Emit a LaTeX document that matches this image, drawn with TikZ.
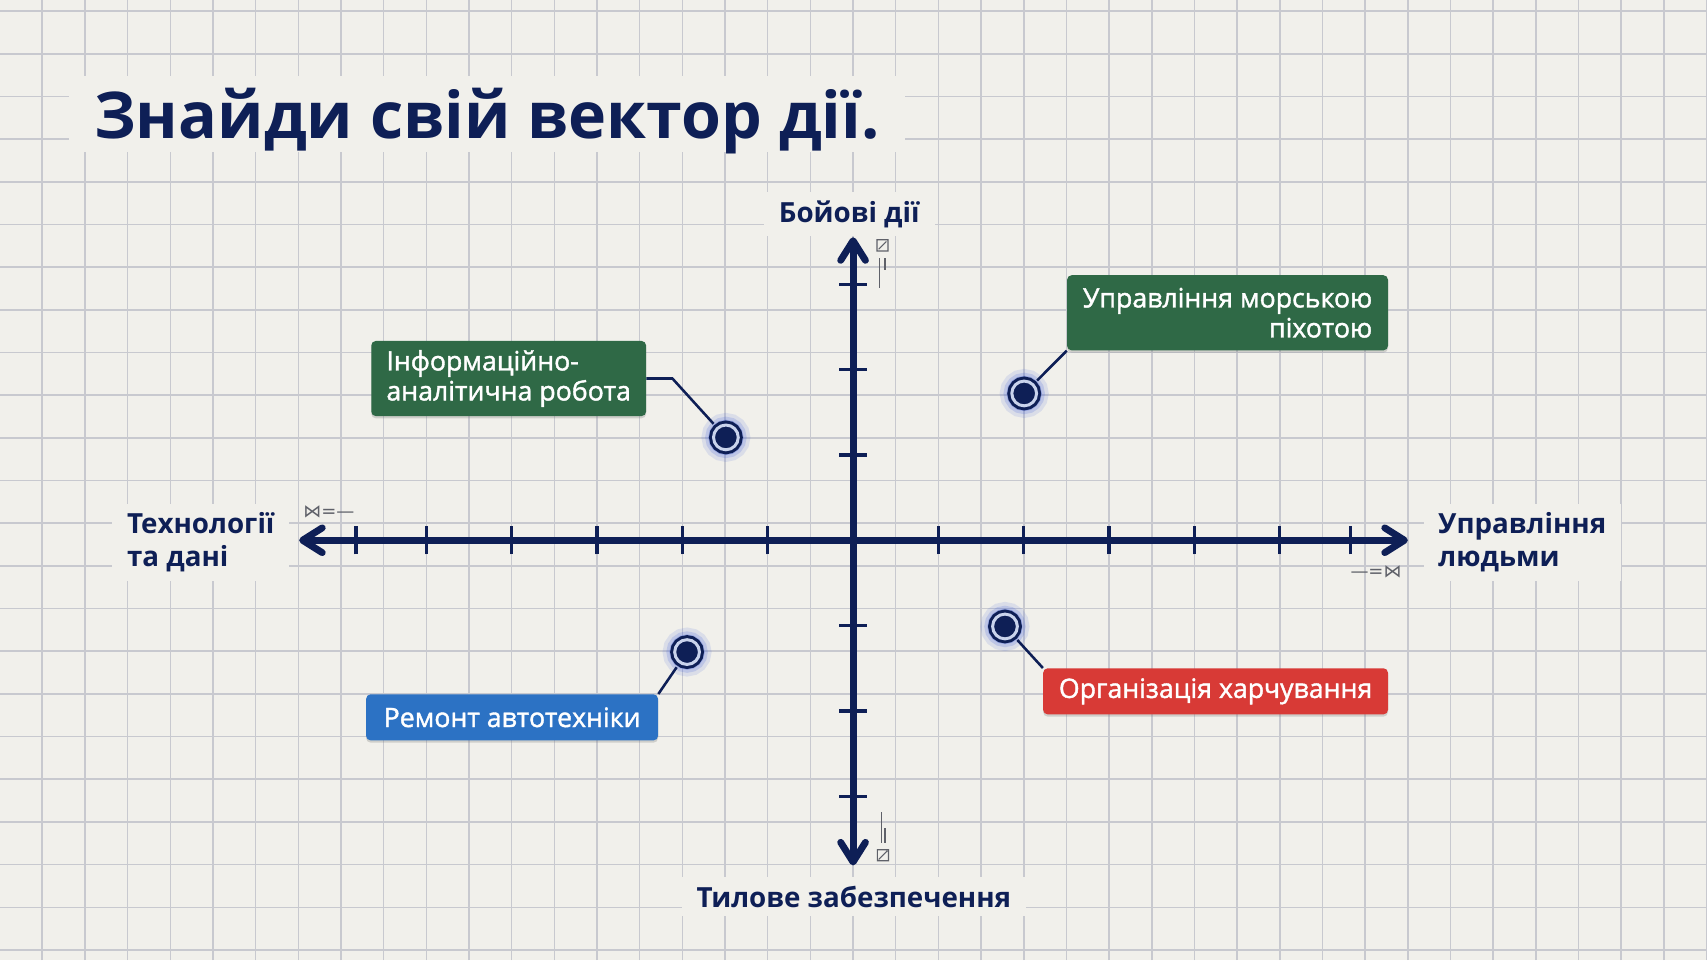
\documentclass[tikz,border=0pt]{standalone}
\usepackage{fontspec}
\setmainfont{Open Sans}
\newfontfamily\tagfont[FakeBold=1.5]{Open Sans}
\newfontfamily\symfont{DejaVu Sans}
\usepackage{tikz}
\usetikzlibrary{arrows.meta, shadows}

\definecolor{paper}{RGB}{241,240,235}
\definecolor{gridgray}{RGB}{200,201,207}
\definecolor{navy}{RGB}{14,31,86}
\definecolor{tagGreen}{RGB}{47,105,70}
\definecolor{tagBlue}{RGB}{44,114,196}
\definecolor{tagRed}{RGB}{216,58,54}
\definecolor{glowBlue}{RGB}{58,91,217}
\definecolor{ringLight}{RGB}{201,211,236}
\definecolor{markGray}{RGB}{95,97,105}

\begin{document}
\begin{tikzpicture}[>={Straight Barb[length=4.6mm, width=5.8mm, round]}, font=\tagfont\fontsize{17.8}{20}\selectfont,
    tag/.style={rounded corners=3pt, text=white, inner sep=0pt, drop shadow={shadow xshift=0pt, shadow yshift=-1.5pt, opacity=0.3}},
    axislabel/.style={fill=paper, text=navy, font=\fontsize{18.5}{22}\selectfont\bfseries, inner xsep=0.35cm, inner ysep=0.2cm},
    spot/.style={circle, minimum size=0.58cm, inner sep=0pt, fill=navy, draw=navy, line width=2pt, double=ringLight, double distance=2pt,
        preaction={draw=glowBlue, line width=16pt, draw opacity=0.12},
        preaction={draw=glowBlue, line width=11pt, draw opacity=0.18},
        preaction={draw=glowBlue, line width=7pt, draw opacity=0.3}},
    link/.style={navy, line width=1.7pt, shorten >=3pt},
    marklabel/.style={font=\symfont\fontsize{12}{12}\selectfont, text=markGray, inner sep=0pt}]

    % --- Papier mit Raster ---
    \useasboundingbox (-19.99,-9.84) rectangle (20.01,12.66);
    \fill[paper] (-19.99,-9.84) rectangle (20.01,12.66);
    \foreach \x in {-20,...,20}
        \draw[gridgray, line width=1pt] (\x,-9.84) -- (\x,12.66);
    \foreach \y in {-9.6,-8.6,...,12.5}
        \draw[gridgray, line width=1pt] (-19.99,\y) -- (20.01,\y);

    % --- Titel ---
    \node[anchor=base west, fill=paper, text=navy, font=\fontsize{43}{50}\selectfont\bfseries,
          inner xsep=0.58cm, inner ysep=0.27cm, text height=1.2cm, text depth=0.06cm] (title) at (-18.37,9.42) {Знайди свій вектор дії.};

    % --- Achsen ---
    \draw[navy, line width=4.6pt, <->] (-12.98,0) -- (13.0,0);
    \draw[navy, line width=4.6pt, <->] (0,-7.62) -- (0,7.1);
    \foreach \t in {-11.65,-10,-8,-6,-4,-2,2,4,6,8,10,11.65}
        \draw[navy, line width=2.2pt] (\t,-0.33) -- (\t,0.33);
    \foreach \t in {-6,-4,-2,2,4,6}
        \draw[navy, line width=2.2pt] (-0.32,\t) -- (0.32,\t);

    % kleine Zeichen an den Achsenenden
    \node[marklabel, anchor=base west] (lmark) at (-12.89,0.54) {⋈=—};
    \node[marklabel, anchor=base east] (rmark) at (12.86,-0.87) {—=⋈};
    \draw[markGray, line width=0.8pt] (0.56,6.78) rectangle (0.82,7.04) (0.6,6.82) -- (0.78,7.0);
    \draw[markGray, line width=0.8pt] (0.61,6.61) -- (0.61,5.9) (0.75,6.61) -- (0.75,6.33);
    \draw[markGray, line width=0.8pt] (0.57,-7.51) rectangle (0.83,-7.25) (0.6,-7.48) -- (0.8,-7.28);
    \draw[markGray, line width=0.8pt] (0.66,-6.37) -- (0.66,-7.1) (0.75,-6.75) -- (0.75,-7.1);

    % --- Achsenbeschriftung ---
    \node[axislabel, anchor=base] (up) at (-0.09,7.45) {Бойові дії};
    \node[axislabel, anchor=base] (down) at (0.02,-8.6) {Тилове забезпечення};
    \node[axislabel, anchor=west, align=left] (left) at (-17.37,-0.05) {Технології\\та дані};
    \node[axislabel, anchor=west, align=left] (right) at (13.36,-0.05) {Управління\\людьми};

    % --- Karten ---
    \node[tag, fill=tagGreen, minimum width=6.44cm, minimum height=1.76cm, align=left] (info) at (-8.07,3.79) {Інформаційно-\\аналітична робота};
    \node[tag, fill=tagGreen, minimum width=7.52cm, minimum height=1.76cm, align=right] (marine) at (8.775,5.33) {Управління морською\\піхотою};
    \node[tag, fill=tagBlue, minimum width=6.84cm, minimum height=1.08cm] (repair) at (-7.99,-4.15) {Ремонт автотехніки};
    \node[tag, fill=tagRed, minimum width=8.08cm, minimum height=1.08cm] (food) at (8.495,-3.54) {Організація харчування};

    % --- Punkte ---
    \node[spot] (p1) at (-2.98,2.41) {};
    \node[spot] (p2) at (4.01,3.44) {};
    \node[spot] (p3) at (-3.89,-2.62) {};
    \node[spot] (p4) at (3.56,-2.02) {};

    % Verbindungen
    \draw[link] (info.east) -- ++(0.61,0) -- (p1);
    \draw[link] (marine.south west) -- (p2);
    \draw[link] (repair.north east) -- (p3);
    \draw[link] (food.north west) -- (p4);

\end{tikzpicture}
\end{document}
